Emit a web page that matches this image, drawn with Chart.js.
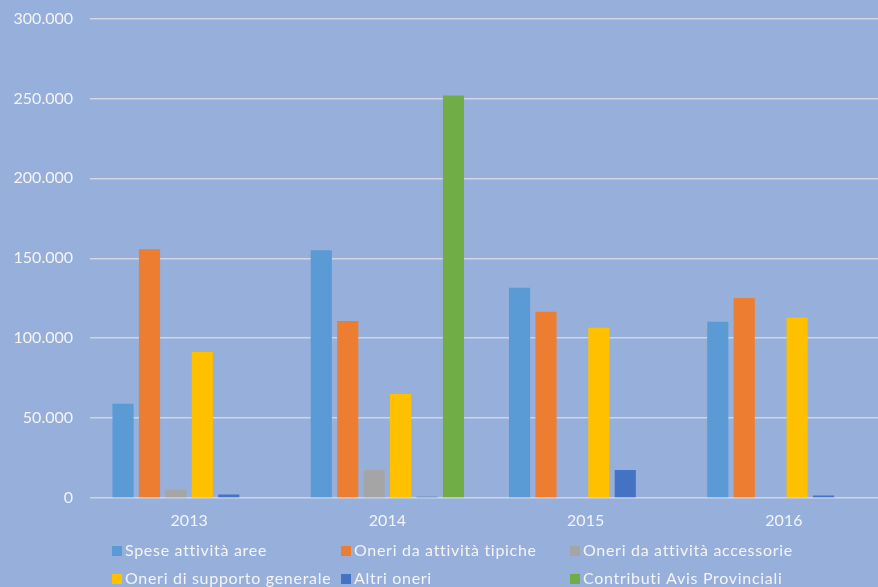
<!DOCTYPE html>
<html>
<head>
<meta charset="utf-8">
<script src="https://cdn.jsdelivr.net/npm/chart.js@4/dist/chart.umd.min.js"></script>
<style>
  html, body { margin: 0; padding: 0; background: #97AFDB; overflow: hidden; }
  #wrap { position: relative; width: 878px; height: 587px; }
</style>
</head>
<body>
<div id="wrap"><canvas id="c" width="878" height="587"></canvas></div>
<script>
// Anni di bilancio
const years = ['2013', '2014', '2015', '2016'];

// Voci di spesa (euro)
const speseAttivitaAree   = [59000, 155000, 131500, 110200];
const oneriTipiche        = [155600, 110800, 116500, 125200];
const oneriAccessorie     = [5200, 17500, 0, 0];
const oneriSupporto       = [91400, 65000, 106500, 112800];
const altriOneri          = [2200, 800, 17500, 1500];
const contributiAvis      = [0, 251900, 0, 0];

const seriesNames = [
  'Spese attività aree',
  'Oneri da attività tipiche',
  'Oneri da attività accessorie',
  'Oneri di supporto generale',
  'Altri oneri',
  'Contributi Avis Provinciali'
];
const seriesColors = ['#5B9BD5', '#ED7D31', '#A5A5A5', '#FFC000', '#4472C4', '#70AD47'];
const seriesData = [speseAttivitaAree, oneriTipiche, oneriAccessorie, oneriSupporto, altriOneri, contributiAvis];

const FONT = 'Lato, "Open Sans", sans-serif';
const TEXT = '#F4F4F4';

function formatIt(v) {
  return String(Math.round(v)).replace(/\B(?=(\d{3})+(?!\d))/g, '.');
}

// The category axis runs a few pixels past the right edge of the canvas
const widenCategories = {
  id: 'widenCategories',
  afterLayout(chart) {
    const x = chart.scales.x;
    x.right = x.left + 793;
    x.width = 793;
    x.configure();
  }
};

// Legend laid out as a 3-column grid under the axis
const legendGrid = {
  id: 'legendGrid',
  afterDraw(chart) {
    const ctx = chart.ctx;
    const cols = [112, 341, 570];
    const rows = [551, 579];
    ctx.save();
    ctx.font = '16px ' + FONT;
    ctx.letterSpacing = '0.7px';
    ctx.textBaseline = 'middle';
    ctx.textAlign = 'left';
    seriesNames.forEach((name, i) => {
      const x = cols[i % 3];
      const y = rows[Math.floor(i / 3)];
      ctx.fillStyle = seriesColors[i];
      ctx.fillRect(x, y - 5, 10, 10);
      ctx.fillStyle = TEXT;
      ctx.fillText(name, x + 13, y);
    });
    ctx.letterSpacing = '0px';
    ctx.restore();
  }
};

new Chart(document.getElementById('c'), {
  type: 'bar',
  data: {
    labels: years,
    datasets: seriesNames.map((name, i) => ({
      label: name,
      data: seriesData[i],
      backgroundColor: seriesColors[i],
      borderWidth: 0,
      barPercentage: 0.8,
      categoryPercentage: 0.8
    }))
  },
  options: {
    responsive: false,
    animation: false,
    layout: { padding: { top: 18.5, right: 0, bottom: 0, left: 0 } },
    plugins: {
      legend: { display: false },
      tooltip: { enabled: false }
    },
    scales: {
      x: {
        grid: { display: false, drawTicks: false },
        border: { display: false },
        ticks: { color: TEXT, font: { family: FONT, size: 16 }, padding: 13 },
        afterFit(scale) { scale.height = 89; }
      },
      y: {
        min: 0,
        max: 300000,
        ticks: {
          stepSize: 50000,
          color: TEXT,
          font: { family: FONT, size: 16 },
          padding: 17,
          callback: v => formatIt(v)
        },
        grid: { color: '#D0D5E0', lineWidth: 1.5, drawTicks: false },
        border: { display: false },
        afterFit(scale) {
          scale.width = 90;
          scale.paddingTop = 0;
          scale.paddingBottom = 0;
        }
      }
    }
  },
  plugins: [widenCategories, legendGrid]
});
</script>
</body>
</html>
